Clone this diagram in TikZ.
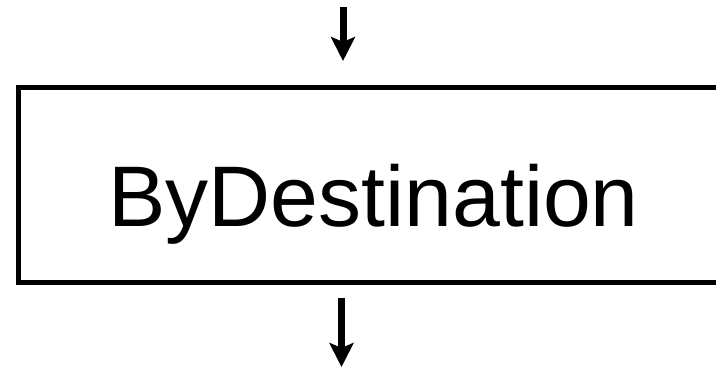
\documentclass[tikz,border=0pt]{standalone}
\usepackage{fontspec}
\setmainfont{Liberation Sans}
\usetikzlibrary{arrows.meta}
\begin{document}
\begin{tikzpicture}[x=1pt,y=1pt,
  boxstyle/.style={draw=black, line width=5pt, inner sep=0pt},
  flowarrow/.style={line width=7pt, -{Stealth[length=24pt, width=24pt, inset=5pt]}}]
\useasboundingbox (0,0) rectangle (716,-368);
\clip (0,0) rectangle (716,-368);
\node[boxstyle, minimum width=721.5pt, minimum height=195pt] (box) at (379.25,-185) {};
\node[anchor=base, font=\fontsize{86}{86}\selectfont, inner sep=0pt] (label) at (373.5,-226) {ByDestination};
\coordinate (t1) at (343,-7);
\coordinate (t2) at (343,-61);
\coordinate (b1) at (341.5,-298);
\coordinate (b2) at (341.5,-367);
\draw[flowarrow] (t1) -- (t2);
\draw[flowarrow] (b1) -- (b2);
\end{tikzpicture}
\end{document}
